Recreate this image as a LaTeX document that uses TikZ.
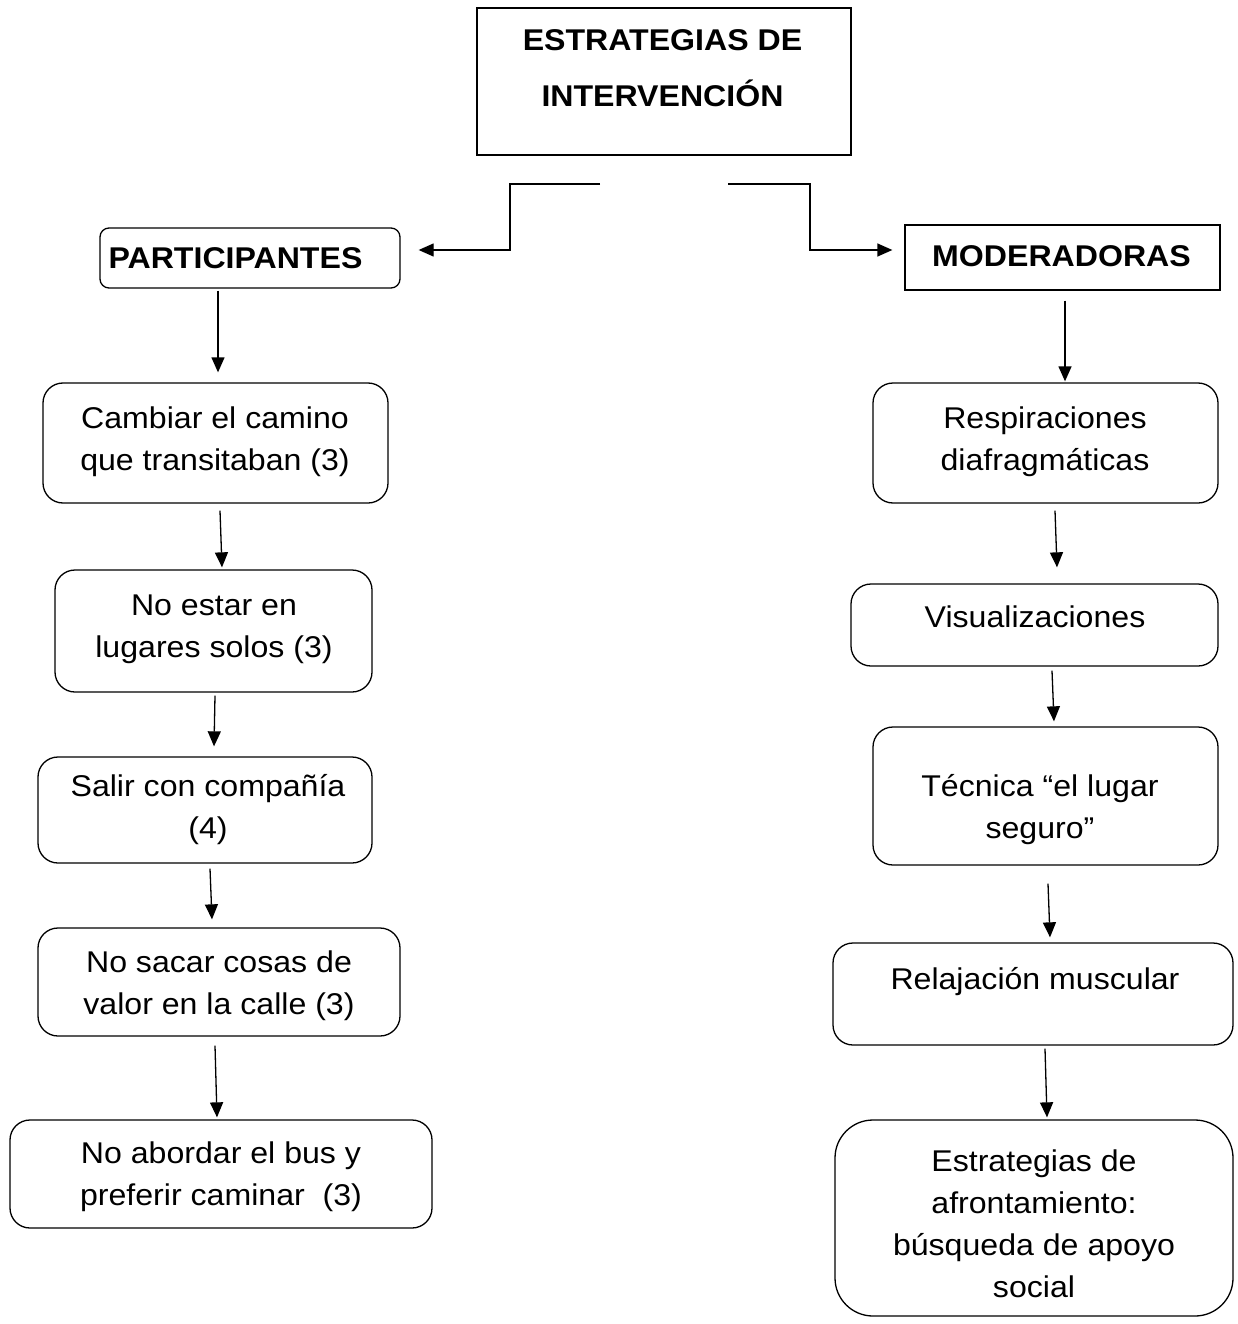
\documentclass[tikz,border=0pt]{standalone}
\usepackage{fontspec}
\setmainfont{Liberation Sans}[FakeStretch=1.07]
\usetikzlibrary{arrows.meta,calc}
\tikzset{
  boxbase/.style={draw, line width=1.3pt, inner sep=0pt},
  sqbox/.style={boxbase},
  rbox/.style={boxbase, rounded corners=20pt},
  txt/.style={align=center, inner sep=0pt, font=\fontsize{30}{42}\selectfont},
  btxt/.style={align=center, inner sep=0pt, font=\fontsize{30}{42}\selectfont\bfseries},
  arr/.style={line width=1.3pt, -{Triangle[length=15pt,width=13pt]}},
}
\begin{document}
\begin{tikzpicture}[x=1pt,y=-1pt]
\useasboundingbox (0,0) rectangle (1237,1324);
% boxes
\node[sqbox, minimum width=374pt, minimum height=147pt] (title) at (664,81.5) {};
\node[rbox, rounded corners=9pt, minimum width=300pt, minimum height=60pt] (part) at (250,258) {};
\node[sqbox, minimum width=315pt, minimum height=65pt] (mod) at (1062.5,257.5) {};
\node[rbox, minimum width=345pt, minimum height=120pt] (c1) at (215.5,443) {};
\node[rbox, minimum width=317pt, minimum height=122pt] (c2) at (213.5,631) {};
\node[rbox, minimum width=334pt, minimum height=106pt] (c3) at (205,810) {};
\node[rbox, minimum width=362pt, minimum height=108pt] (c4) at (219,982) {};
\node[rbox, minimum width=422pt, minimum height=108pt] (c5) at (221,1174) {};
\node[rbox, minimum width=345pt, minimum height=120pt] (r1) at (1045.5,443) {};
\node[rbox, minimum width=367pt, minimum height=82pt] (r2) at (1034.5,625) {};
\node[rbox, minimum width=345pt, minimum height=138pt] (r3) at (1045.5,796) {};
\node[rbox, minimum width=400pt, minimum height=102pt] (r4) at (1033,994) {};
\node[rbox, rounded corners=38pt, minimum width=398pt, minimum height=196pt] (r5) at (1034,1218) {};
% texts
\node[btxt, font=\fontsize{30}{56}\selectfont\bfseries] (titlet) at (662.5,68) {ESTRATEGIAS DE\\INTERVENCIÓN};
\node[btxt] (partt) at (235.5,258) {PARTICIPANTES};
\node[btxt] (modt) at (1061.5,256) {MODERADORAS};
\node[txt] (c1t) at (215,442) {Cambiar el camino\\que transitaban (3)};
\node[txt] (c2t) at (214,629) {No estar en\\lugares solos (3)};
\node[txt] (c3t) at (208,810) {Salir con compañía\\(4)};
\node[txt] (c4t) at (219,986) {No sacar cosas de\\valor en la calle (3)};
\node[txt] (c5t) at (221,1177) {No abordar el bus y\\preferir caminar\ \ (3)};
\node[txt] (r1t) at (1045,442) {Respiraciones\\diafragmáticas};
\node[txt] (r2t) at (1035,617) {Visualizaciones};
\node[txt] (r3t) at (1040,810) {Técnica “el lugar\\seguro”};
\node[txt] (r4t) at (1035,982) {Relajación muscular};
\node[txt] (r5t) at (1034,1224) {Estrategias de\\afrontamiento:\\búsqueda de apoyo\\social};
% top connectors
\coordinate (tl) at (600,184);
\coordinate (tr) at (728,184);
\draw[arr] (tl) -| (510,250) -- ($(part.east |- 0,250)+(18,0)$);
\draw[arr] (tr) -| (810,250) -- ($(mod.west |- 0,250)+(-12,0)$);
% left column
\draw[arr] ($(part.south -| 218,0)+(0,2)$) -- ($(c1.north -| 218,0)+(0,-10)$);
\draw[arr] ($(c1.south -| 220,0)+(0,7)$) -- ($(c2.north -| 222,0)+(0,-2)$);
\draw[arr] ($(c2.south -| 215,0)+(0,3)$) -- ($(c3.north -| 214,0)+(0,-10)$);
\draw[arr] ($(c3.south -| 210,0)+(0,5)$) -- ($(c4.north -| 212,0)+(0,-8)$);
\draw[arr] ($(c4.south -| 215,0)+(0,9)$) -- ($(c5.north -| 217,0)+(0,-2)$);
% right column
\draw[arr] ($(mod.south -| 1065,0)+(0,10)$) -- ($(r1.north -| 1065,0)+(0,-1)$);
\draw[arr] ($(r1.south -| 1055,0)+(0,7)$) -- ($(r2.north -| 1057,0)+(0,-16)$);
\draw[arr] ($(r2.south -| 1052,0)+(0,4)$) -- ($(r3.north -| 1054,0)+(0,-5)$);
\draw[arr] ($(r3.south -| 1048,0)+(0,18)$) -- ($(r4.north -| 1050,0)+(0,-5)$);
\draw[arr] ($(r4.south -| 1045,0)+(0,3)$) -- ($(r5.north -| 1047,0)+(0,-2)$);
\end{tikzpicture}
\end{document}
